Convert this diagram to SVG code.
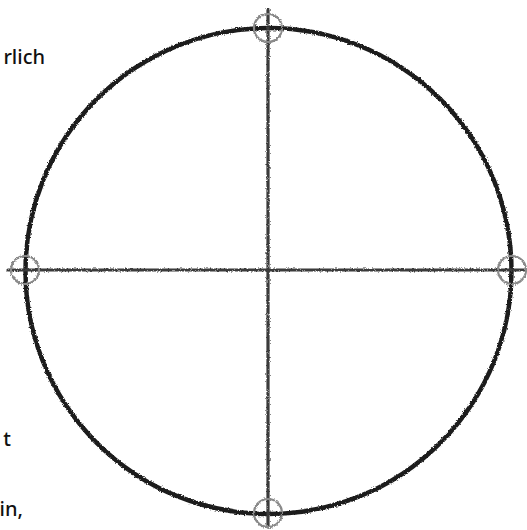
<svg xmlns="http://www.w3.org/2000/svg" width="527" height="530" viewBox="0 0 527 530">
<defs>
<filter id="rough" x="-5%" y="-5%" width="110%" height="110%">
<feTurbulence type="fractalNoise" baseFrequency="0.7" numOctaves="2" seed="3" result="n"/>
<feDisplacementMap in="SourceGraphic" in2="n" scale="3" xChannelSelector="R" yChannelSelector="G"/>
</filter>
<style>
.main{fill:none;stroke:#1e1e1e;stroke-width:4.5;stroke-linecap:round}
.axis{fill:none;stroke:#3a3a3a;stroke-width:3.2;stroke-linecap:round}
.mark{fill:none;stroke:#8a8a8a;stroke-width:2.2}
.txt{font-family:"Noto Sans","Liberation Sans",sans-serif;font-size:20px;font-weight:500;fill:#111}
</style>
</defs>
<rect width="527" height="530" fill="#fff"/>
<g id="texts">
<text class="txt" x="45" y="64" text-anchor="end">rlich</text>
<text class="txt" x="11" y="446" text-anchor="end">t</text>
<text class="txt" x="23" y="516" text-anchor="end">in,</text>
</g>
<g id="circle" filter="url(#rough)">
<circle class="main" cx="268.5" cy="271" r="243"/>
</g>
<g id="connectors" filter="url(#rough)">
<line class="axis" x1="268" y1="10" x2="268" y2="527"/>
<line class="axis" x1="8" y1="270" x2="527" y2="270"/>
</g>
<g id="markers" filter="url(#rough)">
<circle id="m-top" class="mark" cx="268" cy="28" r="14"/>
<circle id="m-left" class="mark" cx="25" cy="270" r="14"/>
<circle id="m-right" class="mark" cx="512" cy="270" r="14"/>
<circle id="m-bottom" class="mark" cx="268" cy="513" r="14"/>
</g>
</svg>
